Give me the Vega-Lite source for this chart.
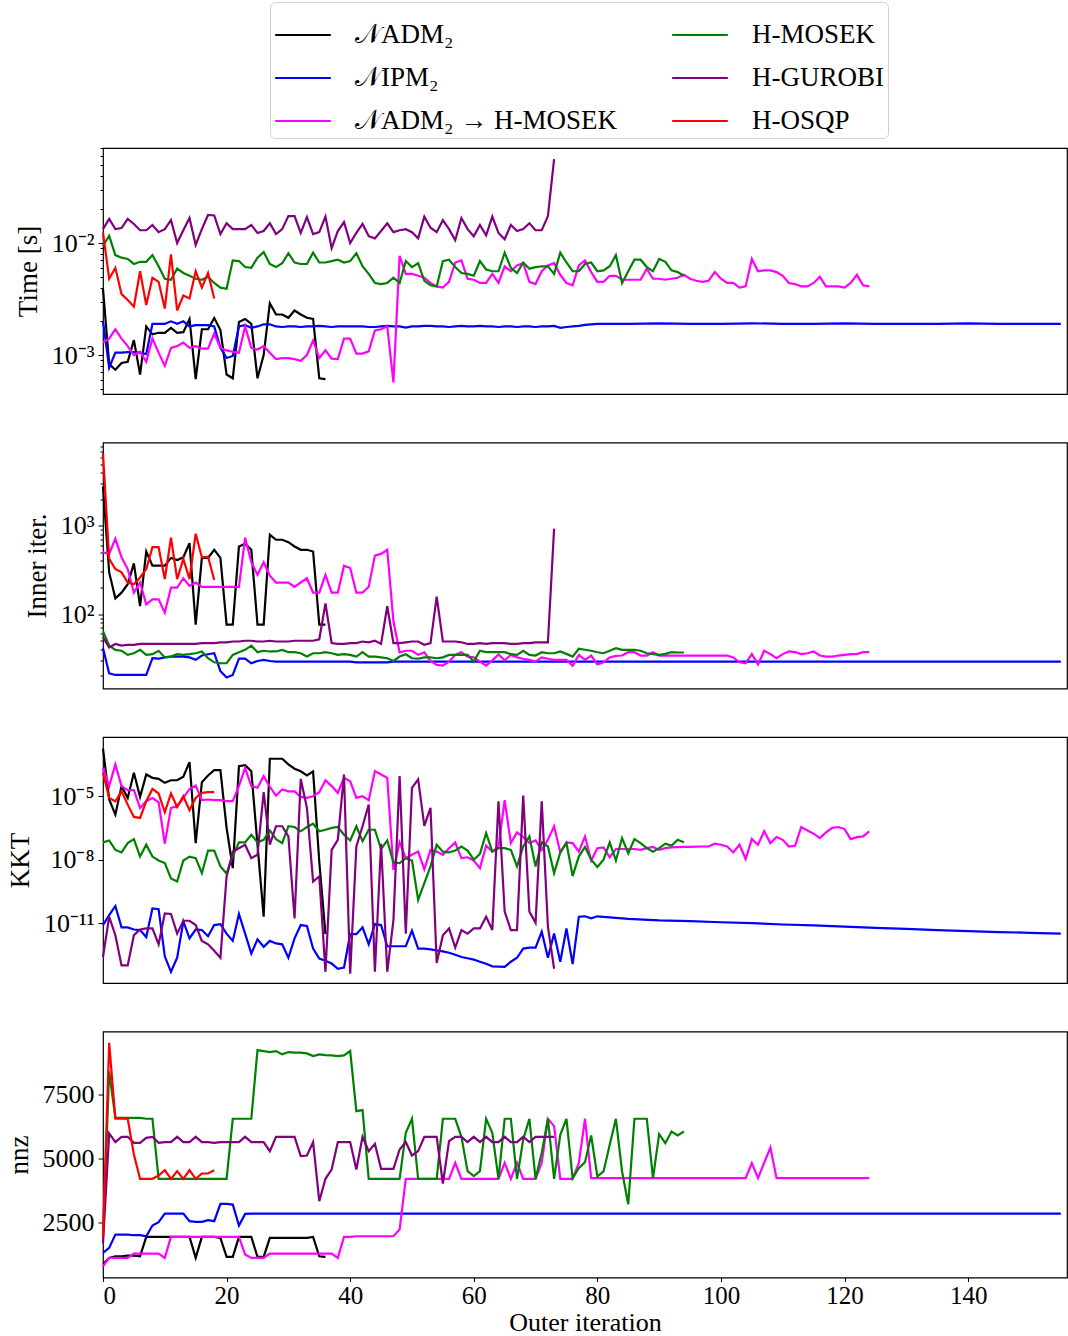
{
  "$schema": "https://vega.github.io/schema/vega-lite/v6.json",
  "padding": {"left": 4, "top": 1, "right": 2, "bottom": 0},
  "bounds": "flush",
  "spacing": 48.5,
  "config": {
    "font": "Liberation Serif",
    "view": {"stroke": "black", "strokeWidth": 1.2},
    "axis": {
      "labelFont": "Liberation Serif", "labelFontSize": 26, "labelColor": "black",
      "titleFont": "Liberation Serif", "titleFontSize": 27, "titleFontWeight": "normal", "titleColor": "black",
      "domain": false, "grid": false, "tickColor": "black", "tickWidth": 1,
      "labelPadding": 4, "titlePadding": 9, "labelOverlap": false
    },
    "legend": {
      "orient": "none", "legendX": 167, "legendY": -146, "columns": 2,
      "symbolType": "stroke", "symbolSize": 3100, "symbolStrokeWidth": 3,
      "labelFont": "Liberation Serif", "labelFontSize": 27, "labelColor": "black", "labelLimit": 400,
      "labelOffset": 23, "columnPadding": 50, "rowPadding": 1, "padding": 4,
      "strokeColor": "#d0d0d0", "fillColor": "white", "cornerRadius": 5
    },
    "line": {"strokeWidth": 2.2, "clip": true}
  },
  "data": {"values": [
    {"s":"𝒩ADM₂","i":0,"t":0.0039,"n":2780,"k":1.8e-3,"z":900},
    {"s":"𝒩ADM₂","i":1,"t":0.00083,"n":297,"k":7e-6,"z":1135},
    {"s":"𝒩ADM₂","i":2,"t":0.00074,"n":151,"k":1.35e-6,"z":1200},
    {"s":"𝒩ADM₂","i":3,"t":0.00085,"n":175,"k":3e-5,"z":1200},
    {"s":"𝒩ADM₂","i":4,"t":0.00087,"n":218,"k":8.3e-6,"z":1226},
    {"s":"𝒩ADM₂","i":5,"t":0.00136,"n":376,"k":1.3e-4,"z":1226},
    {"s":"𝒩ADM₂","i":6,"t":0.00067,"n":123,"k":9.3e-6,"z":1200},
    {"s":"𝒩ADM₂","i":7,"t":0.0018,"n":512,"k":1.07e-4,"z":1953},
    {"s":"𝒩ADM₂","i":8,"t":0.00153,"n":354,"k":7.4e-5,"z":1953},
    {"s":"𝒩ADM₂","i":9,"t":0.00158,"n":354,"k":6.6e-5,"z":1953},
    {"s":"𝒩ADM₂","i":10,"t":0.00158,"n":354,"k":4.3e-5,"z":1953},
    {"s":"𝒩ADM₂","i":11,"t":0.00175,"n":433,"k":5.7e-5,"z":1953},
    {"s":"𝒩ADM₂","i":12,"t":0.00158,"n":410,"k":5.7e-5,"z":1953},
    {"s":"𝒩ADM₂","i":13,"t":0.0016,"n":440,"k":8.3e-5,"z":1953},
    {"s":"𝒩ADM₂","i":14,"t":0.0021,"n":637,"k":4.1e-4,"z":1953},
    {"s":"𝒩ADM₂","i":15,"t":0.00061,"n":76,"k":6.1e-8,"z":1135},
    {"s":"𝒩ADM₂","i":16,"t":0.0017,"n":433,"k":4.6e-5,"z":1953},
    {"s":"𝒩ADM₂","i":17,"t":0.0017,"n":433,"k":9.6e-5,"z":1953},
    {"s":"𝒩ADM₂","i":18,"t":0.00214,"n":535,"k":1.7e-4,"z":1953},
    {"s":"𝒩ADM₂","i":19,"t":0.00167,"n":433,"k":1.7e-4,"z":1914},
    {"s":"𝒩ADM₂","i":20,"t":0.00067,"n":76,"k":3.2e-7,"z":1174},
    {"s":"𝒩ADM₂","i":21,"t":0.00062,"n":76,"k":4e-9,"z":1174},
    {"s":"𝒩ADM₂","i":22,"t":0.00197,"n":583,"k":2.65e-4,"z":1953},
    {"s":"𝒩ADM₂","i":23,"t":0.0021,"n":625,"k":2.9e-4,"z":1953},
    {"s":"𝒩ADM₂","i":24,"t":0.0019,"n":535,"k":1.5e-4,"z":1953},
    {"s":"𝒩ADM₂","i":25,"t":0.00062,"n":76,"k":5.1e-8,"z":1174},
    {"s":"𝒩ADM₂","i":26,"t":0.001,"n":76,"k":2e-11,"z":1174},
    {"s":"𝒩ADM₂","i":27,"t":0.0029,"n":792,"k":5.9e-4,"z":1914},
    {"s":"𝒩ADM₂","i":28,"t":0.0023,"n":695,"k":5.9e-4,"z":1914},
    {"s":"𝒩ADM₂","i":29,"t":0.0023,"n":695,"k":5.9e-4,"z":1914},
    {"s":"𝒩ADM₂","i":30,"t":0.00215,"n":653,"k":3.2e-4,"z":1914},
    {"s":"𝒩ADM₂","i":31,"t":0.0025,"n":583,"k":2e-4,"z":1914},
    {"s":"𝒩ADM₂","i":32,"t":0.0023,"n":535,"k":1.5e-4,"z":1914},
    {"s":"𝒩ADM₂","i":33,"t":0.00215,"n":535,"k":9.6e-5,"z":1914},
    {"s":"𝒩ADM₂","i":34,"t":0.0021,"n":512,"k":1.5e-4,"z":1953},
    {"s":"𝒩ADM₂","i":35,"t":0.00062,"n":76,"k":8e-9,"z":1200},
    {"s":"𝒩ADM₂","i":36,"t":0.00061,"n":76,"k":3e-12,"z":1174},

    {"s":"𝒩IPM₂","i":0,"t":0.002,"n":41,"k":8.1e-12,"z":1330},
    {"s":"𝒩IPM₂","i":1,"t":0.00077,"n":21.4,"k":2.4e-11,"z":1525},
    {"s":"𝒩IPM₂","i":2,"t":0.00105,"n":20.5,"k":6.5e-11,"z":2044},
    {"s":"𝒩IPM₂","i":3,"t":0.00105,"n":20.5,"k":6.3e-12,"z":2044},
    {"s":"𝒩IPM₂","i":4,"t":0.00106,"n":20.5,"k":6.3e-12,"z":2044},
    {"s":"𝒩IPM₂","i":5,"t":0.00106,"n":20.5,"k":5e-12,"z":2018},
    {"s":"𝒩IPM₂","i":6,"t":0.00105,"n":20.5,"k":4.7e-12,"z":2018},
    {"s":"𝒩IPM₂","i":7,"t":0.00102,"n":20.5,"k":2.2e-12,"z":1979},
    {"s":"𝒩IPM₂","i":8,"t":0.0019,"n":31.7,"k":5e-11,"z":2395},
    {"s":"𝒩IPM₂","i":9,"t":0.0019,"n":31.3,"k":4.6e-11,"z":2525},
    {"s":"𝒩IPM₂","i":10,"t":0.0019,"n":32.4,"k":2.7e-13,"z":2862},
    {"s":"𝒩IPM₂","i":11,"t":0.002,"n":33.1,"k":5e-14,"z":2862},
    {"s":"𝒩IPM₂","i":12,"t":0.0019,"n":33.1,"k":2.3e-13,"z":2862},
    {"s":"𝒩IPM₂","i":13,"t":0.002,"n":33.1,"k":1.2e-11,"z":2862},
    {"s":"𝒩IPM₂","i":14,"t":0.0018,"n":32.4,"k":1.9e-12,"z":2564},
    {"s":"𝒩IPM₂","i":15,"t":0.00185,"n":30.4,"k":5e-12,"z":2538},
    {"s":"𝒩IPM₂","i":16,"t":0.00185,"n":34,"k":4.7e-12,"z":2538},
    {"s":"𝒩IPM₂","i":17,"t":0.00185,"n":35.2,"k":2.4e-12,"z":2603},
    {"s":"𝒩IPM₂","i":18,"t":0.0018,"n":36.1,"k":8.1e-12,"z":2564},
    {"s":"𝒩IPM₂","i":19,"t":0.00116,"n":22.7,"k":9e-12,"z":3239},
    {"s":"𝒩IPM₂","i":20,"t":0.00094,"n":19.2,"k":3.2e-12,"z":3239},
    {"s":"𝒩IPM₂","i":21,"t":0.00098,"n":20.5,"k":1.45e-12,"z":3213},
    {"s":"𝒩IPM₂","i":22,"t":0.0018,"n":31.3,"k":2.7e-11,"z":2395},
    {"s":"𝒩IPM₂","i":23,"t":0.00185,"n":31.3,"k":3.2e-12,"z":2849},
    {"s":"𝒩IPM₂","i":24,"t":0.00175,"n":27.8,"k":3.6e-13,"z":2862},
    {"s":"𝒩IPM₂","i":25,"t":0.0018,"n":29.5,"k":1.7e-12,"z":2862},
    {"s":"𝒩IPM₂","i":26,"t":0.00188,"n":30.4,"k":7.6e-13,"z":2862},
    {"s":"𝒩IPM₂","i":27,"t":0.00188,"n":29.5,"k":1.45e-12,"z":2862},
    {"s":"𝒩IPM₂","i":28,"t":0.0018,"n":29,"k":1.1e-12,"z":2862},
    {"s":"𝒩IPM₂","i":29,"t":0.00178,"n":29,"k":1e-12,"z":2862},
    {"s":"𝒩IPM₂","i":30,"t":0.0018,"n":29,"k":2.3e-13,"z":2862},
    {"s":"𝒩IPM₂","i":31,"t":0.0018,"n":29,"k":1.9e-12,"z":2862},
    {"s":"𝒩IPM₂","i":32,"t":0.00178,"n":29,"k":8.1e-12,"z":2862},
    {"s":"𝒩IPM₂","i":33,"t":0.0018,"n":29,"k":7.3e-12,"z":2862},
    {"s":"𝒩IPM₂","i":34,"t":0.0018,"n":29,"k":6.3e-13,"z":2862},
    {"s":"𝒩IPM₂","i":35,"t":0.00182,"n":29,"k":2.1e-13,"z":2862},
    {"s":"𝒩IPM₂","i":36,"t":0.0018,"n":29,"k":1.66e-13,"z":2862},
    {"s":"𝒩IPM₂","i":37,"t":0.00178,"n":29,"k":1.23e-13,"z":2862},
    {"s":"𝒩IPM₂","i":38,"t":0.0018,"n":29,"k":7e-14,"z":2862},
    {"s":"𝒩IPM₂","i":39,"t":0.0018,"n":29,"k":8e-14,"z":2862},
    {"s":"𝒩IPM₂","i":40,"t":0.0018,"n":29,"k":3e-12,"z":2862},
    {"s":"𝒩IPM₂","i":41,"t":0.0018,"n":28.5,"k":3e-12,"z":2862},
    {"s":"𝒩IPM₂","i":42,"t":0.0018,"n":28.5,"k":6.3e-12,"z":2862},
    {"s":"𝒩IPM₂","i":43,"t":0.00178,"n":28.5,"k":1e-12,"z":2862},
    {"s":"𝒩IPM₂","i":44,"t":0.00178,"n":28.5,"k":9e-12,"z":2862},
    {"s":"𝒩IPM₂","i":45,"t":0.0018,"n":28.5,"k":8.1e-12,"z":2862},
    {"s":"𝒩IPM₂","i":46,"t":0.00182,"n":28.5,"k":8.1e-13,"z":2862},
    {"s":"𝒩IPM₂","i":47,"t":0.0018,"n":29,"k":8.1e-13,"z":2862},
    {"s":"𝒩IPM₂","i":48,"t":0.0018,"n":29,"k":8.1e-13,"z":2862},
    {"s":"𝒩IPM₂","i":49,"t":0.00176,"n":29,"k":8.1e-13,"z":2862},
    {"s":"𝒩IPM₂","i":50,"t":0.0018,"n":29,"k":4.4e-12,"z":2862},
    {"s":"𝒩IPM₂","i":51,"t":0.0018,"n":29,"k":6.3e-13,"z":2862},
    {"s":"𝒩IPM₂","i":52,"t":0.00182,"n":29,"k":6.3e-13,"z":2862},
    {"s":"𝒩IPM₂","i":53,"t":0.00182,"n":29,"k":5.8e-13,"z":2862},
    {"s":"𝒩IPM₂","i":54,"t":0.0018,"n":29,"k":5.2e-13,"z":2862},
    {"s":"𝒩IPM₂","i":55,"t":0.0018,"n":29,"k":4.6e-13,"z":2862},
    {"s":"𝒩IPM₂","i":56,"t":0.00178,"n":29,"k":4e-13,"z":2862},
    {"s":"𝒩IPM₂","i":57,"t":0.0018,"n":29,"k":3.2e-13,"z":2862},
    {"s":"𝒩IPM₂","i":58,"t":0.00182,"n":29,"k":2.5e-13,"z":2862},
    {"s":"𝒩IPM₂","i":59,"t":0.0018,"n":29,"k":2.2e-13,"z":2862},
    {"s":"𝒩IPM₂","i":60,"t":0.0018,"n":29,"k":1.9e-13,"z":2862},
    {"s":"𝒩IPM₂","i":61,"t":0.00182,"n":29,"k":1.5e-13,"z":2862},
    {"s":"𝒩IPM₂","i":62,"t":0.0018,"n":29,"k":1.2e-13,"z":2862},
    {"s":"𝒩IPM₂","i":63,"t":0.0018,"n":29,"k":9.1e-14,"z":2862},
    {"s":"𝒩IPM₂","i":64,"t":0.00178,"n":29,"k":8.8e-14,"z":2862},
    {"s":"𝒩IPM₂","i":65,"t":0.0018,"n":29,"k":8.5e-14,"z":2862},
    {"s":"𝒩IPM₂","i":66,"t":0.0018,"n":29,"k":1.5e-13,"z":2862},
    {"s":"𝒩IPM₂","i":67,"t":0.00178,"n":29,"k":2.3e-13,"z":2862},
    {"s":"𝒩IPM₂","i":68,"t":0.0018,"n":29,"k":6.3e-13,"z":2862},
    {"s":"𝒩IPM₂","i":69,"t":0.0018,"n":29,"k":7e-13,"z":2862},
    {"s":"𝒩IPM₂","i":70,"t":0.00178,"n":29,"k":7e-13,"z":2862},
    {"s":"𝒩IPM₂","i":71,"t":0.0018,"n":29,"k":3.9e-12,"z":2862},
    {"s":"𝒩IPM₂","i":72,"t":0.0018,"n":29,"k":2.3e-13,"z":2862},
    {"s":"𝒩IPM₂","i":73,"t":0.00182,"n":29,"k":3.2e-12,"z":2862},
    {"s":"𝒩IPM₂","i":74,"t":0.00175,"n":29,"k":1.5e-13,"z":2862},
    {"s":"𝒩IPM₂","i":75,"t":0.00178,"n":29,"k":5.6e-12,"z":2862},
    {"s":"𝒩IPM₂","i":76,"t":0.0018,"n":29,"k":1.15e-13,"z":2862},
    {"s":"𝒩IPM₂","i":77,"t":0.00182,"n":29,"k":2e-11,"z":2862},
    {"s":"𝒩IPM₂","i":78,"t":0.00186,"n":29,"k":2.1e-11,"z":2862},
    {"s":"𝒩IPM₂","i":79,"t":0.00188,"n":29,"k":1.7e-11,"z":2862},
    {"s":"𝒩IPM₂","i":80,"t":0.0019,"n":29,"k":2.1e-11,"z":2862},
    {"s":"𝒩IPM₂","i":85,"t":0.0019,"n":29,"k":1.6e-11,"z":2862},
    {"s":"𝒩IPM₂","i":90,"t":0.00192,"n":29,"k":1.35e-11,"z":2862},
    {"s":"𝒩IPM₂","i":95,"t":0.0019,"n":29,"k":1.25e-11,"z":2862},
    {"s":"𝒩IPM₂","i":100,"t":0.0019,"n":29,"k":1.1e-11,"z":2862},
    {"s":"𝒩IPM₂","i":105,"t":0.00192,"n":29,"k":1e-11,"z":2862},
    {"s":"𝒩IPM₂","i":110,"t":0.0019,"n":29,"k":8.6e-12,"z":2862},
    {"s":"𝒩IPM₂","i":115,"t":0.0019,"n":29,"k":7.8e-12,"z":2862},
    {"s":"𝒩IPM₂","i":120,"t":0.00192,"n":29,"k":6.8e-12,"z":2862},
    {"s":"𝒩IPM₂","i":125,"t":0.0019,"n":29,"k":6e-12,"z":2862},
    {"s":"𝒩IPM₂","i":130,"t":0.0019,"n":29,"k":5.3e-12,"z":2862},
    {"s":"𝒩IPM₂","i":135,"t":0.0019,"n":29,"k":4.7e-12,"z":2862},
    {"s":"𝒩IPM₂","i":140,"t":0.00192,"n":29,"k":4.2e-12,"z":2862},
    {"s":"𝒩IPM₂","i":145,"t":0.0019,"n":29,"k":3.8e-12,"z":2862},
    {"s":"𝒩IPM₂","i":150,"t":0.0019,"n":29,"k":3.5e-12,"z":2862},
    {"s":"𝒩IPM₂","i":155,"t":0.0019,"n":29,"k":3.2e-12,"z":2862},

    {"s":"𝒩ADM₂ → H-MOSEK","i":0,"t":0.00129,"n":500,"k":2.2e-4,"z":810},
    {"s":"𝒩ADM₂ → H-MOSEK","i":1,"t":0.0014,"n":481,"k":3e-5,"z":1135},
    {"s":"𝒩ADM₂ → H-MOSEK","i":2,"t":0.0017,"n":713,"k":3.2e-4,"z":1135},
    {"s":"𝒩ADM₂ → H-MOSEK","i":3,"t":0.0014,"n":440,"k":3e-5,"z":1135},
    {"s":"𝒩ADM₂ → H-MOSEK","i":4,"t":0.0012,"n":324,"k":1.93e-5,"z":1135},
    {"s":"𝒩ADM₂ → H-MOSEK","i":5,"t":0.001,"n":175,"k":1.93e-5,"z":1304},
    {"s":"𝒩ADM₂ → H-MOSEK","i":6,"t":0.00107,"n":228,"k":2.8e-6,"z":1304},
    {"s":"𝒩ADM₂ → H-MOSEK","i":7,"t":0.00087,"n":129,"k":5.8e-6,"z":1304},
    {"s":"𝒩ADM₂ → H-MOSEK","i":8,"t":0.0014,"n":147,"k":8.3e-6,"z":1304},
    {"s":"𝒩ADM₂ → H-MOSEK","i":9,"t":0.00105,"n":147,"k":5.2e-6,"z":1304},
    {"s":"𝒩ADM₂ → H-MOSEK","i":10,"t":0.0008,"n":104,"k":5.7e-8,"z":1135},
    {"s":"𝒩ADM₂ → H-MOSEK","i":11,"t":0.00116,"n":200,"k":2.8e-6,"z":1953},
    {"s":"𝒩ADM₂ → H-MOSEK","i":12,"t":0.0012,"n":200,"k":3.3e-6,"z":1953},
    {"s":"𝒩ADM₂ → H-MOSEK","i":13,"t":0.00129,"n":255,"k":8.3e-6,"z":1953},
    {"s":"𝒩ADM₂ → H-MOSEK","i":14,"t":0.00116,"n":209,"k":2.2e-5,"z":1953},
    {"s":"𝒩ADM₂ → H-MOSEK","i":15,"t":0.0012,"n":228,"k":3.2e-5,"z":1953},
    {"s":"𝒩ADM₂ → H-MOSEK","i":16,"t":0.00114,"n":204,"k":6.5e-6,"z":1953},
    {"s":"𝒩ADM₂ → H-MOSEK","i":17,"t":0.00114,"n":204,"k":7e-6,"z":1953},
    {"s":"𝒩ADM₂ → H-MOSEK","i":18,"t":0.00156,"n":204,"k":6.5e-6,"z":1953},
    {"s":"𝒩ADM₂ → H-MOSEK","i":19,"t":0.00116,"n":204,"k":6.5e-6,"z":1953},
    {"s":"𝒩ADM₂ → H-MOSEK","i":20,"t":0.0011,"n":204,"k":5.8e-6,"z":1953},
    {"s":"𝒩ADM₂ → H-MOSEK","i":21,"t":0.00107,"n":204,"k":5.8e-6,"z":1953},
    {"s":"𝒩ADM₂ → H-MOSEK","i":22,"t":0.00105,"n":204,"k":3e-5,"z":1953},
    {"s":"𝒩ADM₂ → H-MOSEK","i":23,"t":0.0018,"n":733,"k":2.2e-4,"z":1265},
    {"s":"𝒩ADM₂ → H-MOSEK","i":24,"t":0.00116,"n":387,"k":3e-5,"z":1135},
    {"s":"𝒩ADM₂ → H-MOSEK","i":25,"t":0.00112,"n":279,"k":2.5e-5,"z":1135},
    {"s":"𝒩ADM₂ → H-MOSEK","i":26,"t":0.0012,"n":387,"k":8.9e-5,"z":1135},
    {"s":"𝒩ADM₂ → H-MOSEK","i":27,"t":0.00105,"n":272,"k":2.8e-5,"z":1304},
    {"s":"𝒩ADM₂ → H-MOSEK","i":28,"t":0.00092,"n":228,"k":1.07e-5,"z":1304},
    {"s":"𝒩ADM₂ → H-MOSEK","i":29,"t":0.00094,"n":228,"k":2.07e-5,"z":1304},
    {"s":"𝒩ADM₂ → H-MOSEK","i":30,"t":0.00094,"n":228,"k":1.7e-5,"z":1304},
    {"s":"𝒩ADM₂ → H-MOSEK","i":31,"t":0.00092,"n":204,"k":1.7e-5,"z":1304},
    {"s":"𝒩ADM₂ → H-MOSEK","i":32,"t":0.00089,"n":228,"k":9.3e-6,"z":1304},
    {"s":"𝒩ADM₂ → H-MOSEK","i":33,"t":0.001,"n":255,"k":8.3e-6,"z":1304},
    {"s":"𝒩ADM₂ → H-MOSEK","i":34,"t":0.00135,"n":175,"k":1e-5,"z":1304},
    {"s":"𝒩ADM₂ → H-MOSEK","i":35,"t":0.00094,"n":175,"k":1.55e-5,"z":1304},
    {"s":"𝒩ADM₂ → H-MOSEK","i":36,"t":0.0011,"n":279,"k":5.7e-5,"z":1304},
    {"s":"𝒩ADM₂ → H-MOSEK","i":37,"t":0.00093,"n":175,"k":3e-5,"z":1304},
    {"s":"𝒩ADM₂ → H-MOSEK","i":38,"t":0.00092,"n":175,"k":1.44e-5,"z":1135},
    {"s":"𝒩ADM₂ → H-MOSEK","i":39,"t":0.0014,"n":354,"k":7.4e-5,"z":1953},
    {"s":"𝒩ADM₂ → H-MOSEK","i":40,"t":0.0014,"n":333,"k":5.1e-5,"z":1953},
    {"s":"𝒩ADM₂ → H-MOSEK","i":41,"t":0.00103,"n":175,"k":8.3e-6,"z":1979},
    {"s":"𝒩ADM₂ → H-MOSEK","i":42,"t":0.00103,"n":175,"k":1e-5,"z":1979},
    {"s":"𝒩ADM₂ → H-MOSEK","i":43,"t":0.00108,"n":204,"k":6.5e-6,"z":1979},
    {"s":"𝒩ADM₂ → H-MOSEK","i":44,"t":0.00166,"n":460,"k":1.53e-4,"z":1979},
    {"s":"𝒩ADM₂ → H-MOSEK","i":45,"t":0.0017,"n":481,"k":1.07e-4,"z":1979},
    {"s":"𝒩ADM₂ → H-MOSEK","i":46,"t":0.0018,"n":535,"k":7.4e-5,"z":1979},
    {"s":"𝒩ADM₂ → H-MOSEK","i":47,"t":0.00057,"n":83,"k":3.3e-9,"z":1979},
    {"s":"𝒩ADM₂ → H-MOSEK","i":48,"t":0.0077,"n":37,"k":6.6e-8,"z":2239},
    {"s":"𝒩ADM₂ → H-MOSEK","i":49,"t":0.0053,"n":38.5,"k":1.18e-8,"z":4214},
    {"s":"𝒩ADM₂ → H-MOSEK","i":50,"t":0.0053,"n":38.5,"k":1.7e-8,"z":4214},
    {"s":"𝒩ADM₂ → H-MOSEK","i":51,"t":0.0051,"n":34.6,"k":2.4e-8,"z":4214},
    {"s":"𝒩ADM₂ → H-MOSEK","i":52,"t":0.0049,"n":37,"k":3.5e-9,"z":4214},
    {"s":"𝒩ADM₂ → H-MOSEK","i":53,"t":0.0044,"n":29.5,"k":2.9e-8,"z":4214},
    {"s":"𝒩ADM₂ → H-MOSEK","i":54,"t":0.0041,"n":26.6,"k":2.4e-8,"z":4214},
    {"s":"𝒩ADM₂ → H-MOSEK","i":55,"t":0.004,"n":26.2,"k":1.7e-8,"z":4214},
    {"s":"𝒩ADM₂ → H-MOSEK","i":56,"t":0.0045,"n":29,"k":3.5e-8,"z":4214},
    {"s":"𝒩ADM₂ → H-MOSEK","i":57,"t":0.0067,"n":34.6,"k":6.6e-8,"z":4837},
    {"s":"𝒩ADM₂ → H-MOSEK","i":58,"t":0.007,"n":37,"k":1.18e-8,"z":4214},
    {"s":"𝒩ADM₂ → H-MOSEK","i":59,"t":0.0048,"n":33,"k":1.3e-8,"z":4214},
    {"s":"𝒩ADM₂ → H-MOSEK","i":60,"t":0.0047,"n":32.4,"k":9.1e-9,"z":4214},
    {"s":"𝒩ADM₂ → H-MOSEK","i":61,"t":0.0044,"n":29,"k":4e-9,"z":4214},
    {"s":"𝒩ADM₂ → H-MOSEK","i":62,"t":0.0044,"n":26.2,"k":4.6e-8,"z":4214},
    {"s":"𝒩ADM₂ → H-MOSEK","i":63,"t":0.0053,"n":30,"k":2.4e-8,"z":4214},
    {"s":"𝒩ADM₂ → H-MOSEK","i":64,"t":0.0044,"n":35,"k":4.2e-8,"z":4214},
    {"s":"𝒩ADM₂ → H-MOSEK","i":65,"t":0.0062,"n":30,"k":6.5e-6,"z":4837},
    {"s":"𝒩ADM₂ → H-MOSEK","i":66,"t":0.0056,"n":34.6,"k":6.1e-8,"z":4214},
    {"s":"𝒩ADM₂ → H-MOSEK","i":67,"t":0.0063,"n":32.4,"k":1.95e-7,"z":4837},
    {"s":"𝒩ADM₂ → H-MOSEK","i":68,"t":0.0066,"n":31.3,"k":1.17e-7,"z":4214},
    {"s":"𝒩ADM₂ → H-MOSEK","i":69,"t":0.0045,"n":30.4,"k":6.1e-8,"z":4214},
    {"s":"𝒩ADM₂ → H-MOSEK","i":70,"t":0.0043,"n":29,"k":8.1e-8,"z":4214},
    {"s":"𝒩ADM₂ → H-MOSEK","i":71,"t":0.0056,"n":32.4,"k":2.9e-8,"z":4837},
    {"s":"𝒩ADM₂ → H-MOSEK","i":72,"t":0.0063,"n":31.3,"k":8.7e-8,"z":6552},
    {"s":"𝒩ADM₂ → H-MOSEK","i":73,"t":0.0066,"n":30.4,"k":3.8e-7,"z":6266},
    {"s":"𝒩ADM₂ → H-MOSEK","i":74,"t":0.0052,"n":30.4,"k":2.2e-8,"z":4214},
    {"s":"𝒩ADM₂ → H-MOSEK","i":75,"t":0.0044,"n":30.4,"k":6.6e-8,"z":4214},
    {"s":"𝒩ADM₂ → H-MOSEK","i":76,"t":0.0042,"n":26.1,"k":6.1e-8,"z":4214},
    {"s":"𝒩ADM₂ → H-MOSEK","i":77,"t":0.0063,"n":34.6,"k":2.4e-8,"z":4824},
    {"s":"𝒩ADM₂ → H-MOSEK","i":78,"t":0.007,"n":30.4,"k":1.26e-7,"z":6552},
    {"s":"𝒩ADM₂ → H-MOSEK","i":79,"t":0.0055,"n":34,"k":9.1e-9,"z":4240},
    {"s":"𝒩ADM₂ → H-MOSEK","i":80,"t":0.0045,"n":27,"k":3.5e-8,"z":4240},
    {"s":"𝒩ADM₂ → H-MOSEK","i":81,"t":0.0045,"n":28.5,"k":3.8e-8,"z":4240},
    {"s":"𝒩ADM₂ → H-MOSEK","i":82,"t":0.0051,"n":32.3,"k":1.3e-8,"z":4240},
    {"s":"𝒩ADM₂ → H-MOSEK","i":83,"t":0.0051,"n":33.7,"k":3.2e-8,"z":4240},
    {"s":"𝒩ADM₂ → H-MOSEK","i":84,"t":0.0047,"n":34,"k":3.2e-8,"z":4240},
    {"s":"𝒩ADM₂ → H-MOSEK","i":85,"t":0.0047,"n":37.1,"k":3.2e-8,"z":4240},
    {"s":"𝒩ADM₂ → H-MOSEK","i":86,"t":0.0047,"n":37.1,"k":3.2e-8,"z":4240},
    {"s":"𝒩ADM₂ → H-MOSEK","i":87,"t":0.0047,"n":34,"k":2.9e-8,"z":4240},
    {"s":"𝒩ADM₂ → H-MOSEK","i":88,"t":0.0059,"n":34,"k":3.5e-8,"z":4240},
    {"s":"𝒩ADM₂ → H-MOSEK","i":89,"t":0.0048,"n":37.1,"k":4e-8,"z":4240},
    {"s":"𝒩ADM₂ → H-MOSEK","i":90,"t":0.0048,"n":34,"k":2.9e-8,"z":4240},
    {"s":"𝒩ADM₂ → H-MOSEK","i":91,"t":0.0047,"n":34,"k":3.5e-8,"z":4240},
    {"s":"𝒩ADM₂ → H-MOSEK","i":92,"t":0.0048,"n":34,"k":3.8e-8,"z":4240},
    {"s":"𝒩ADM₂ → H-MOSEK","i":93,"t":0.0049,"n":34,"k":3.9e-8,"z":4240},
    {"s":"𝒩ADM₂ → H-MOSEK","i":94,"t":0.0052,"n":34,"k":4e-8,"z":4240},
    {"s":"𝒩ADM₂ → H-MOSEK","i":95,"t":0.0048,"n":34,"k":4e-8,"z":4240},
    {"s":"𝒩ADM₂ → H-MOSEK","i":96,"t":0.0046,"n":34,"k":4.1e-8,"z":4240},
    {"s":"𝒩ADM₂ → H-MOSEK","i":97,"t":0.0045,"n":34,"k":4.2e-8,"z":4240},
    {"s":"𝒩ADM₂ → H-MOSEK","i":98,"t":0.0046,"n":34,"k":4.2e-8,"z":4240},
    {"s":"𝒩ADM₂ → H-MOSEK","i":99,"t":0.0055,"n":34,"k":5.7e-8,"z":4240},
    {"s":"𝒩ADM₂ → H-MOSEK","i":100,"t":0.0048,"n":34,"k":5.1e-8,"z":4240},
    {"s":"𝒩ADM₂ → H-MOSEK","i":101,"t":0.0044,"n":34,"k":4.2e-8,"z":4240},
    {"s":"𝒩ADM₂ → H-MOSEK","i":102,"t":0.0044,"n":32.3,"k":2.2e-8,"z":4240},
    {"s":"𝒩ADM₂ → H-MOSEK","i":103,"t":0.004,"n":28.5,"k":5.1e-8,"z":4240},
    {"s":"𝒩ADM₂ → H-MOSEK","i":104,"t":0.0041,"n":27.8,"k":1.07e-8,"z":4240},
    {"s":"𝒩ADM₂ → H-MOSEK","i":105,"t":0.0072,"n":35.3,"k":9.4e-8,"z":4824},
    {"s":"𝒩ADM₂ → H-MOSEK","i":106,"t":0.0056,"n":27,"k":5.1e-8,"z":4240},
    {"s":"𝒩ADM₂ → H-MOSEK","i":107,"t":0.0057,"n":38.5,"k":2.2e-7,"z":4840},
    {"s":"𝒩ADM₂ → H-MOSEK","i":108,"t":0.0057,"n":35.3,"k":6.1e-8,"z":5435},
    {"s":"𝒩ADM₂ → H-MOSEK","i":109,"t":0.0055,"n":31.7,"k":1.17e-7,"z":4240},
    {"s":"𝒩ADM₂ → H-MOSEK","i":110,"t":0.0051,"n":35.3,"k":8.7e-8,"z":4240},
    {"s":"𝒩ADM₂ → H-MOSEK","i":111,"t":0.0044,"n":37.8,"k":4.2e-8,"z":4240},
    {"s":"𝒩ADM₂ → H-MOSEK","i":112,"t":0.0043,"n":37.1,"k":4.6e-8,"z":4240},
    {"s":"𝒩ADM₂ → H-MOSEK","i":113,"t":0.0041,"n":35.3,"k":3.5e-7,"z":4240},
    {"s":"𝒩ADM₂ → H-MOSEK","i":114,"t":0.0041,"n":36.1,"k":2.4e-7,"z":4240},
    {"s":"𝒩ADM₂ → H-MOSEK","i":115,"t":0.0044,"n":37.8,"k":1.7e-7,"z":4240},
    {"s":"𝒩ADM₂ → H-MOSEK","i":116,"t":0.005,"n":34,"k":1.05e-7,"z":4240},
    {"s":"𝒩ADM₂ → H-MOSEK","i":117,"t":0.0041,"n":33.1,"k":1.95e-7,"z":4240},
    {"s":"𝒩ADM₂ → H-MOSEK","i":118,"t":0.0041,"n":33.1,"k":3.2e-7,"z":4240},
    {"s":"𝒩ADM₂ → H-MOSEK","i":119,"t":0.0041,"n":34,"k":3.5e-7,"z":4240},
    {"s":"𝒩ADM₂ → H-MOSEK","i":120,"t":0.004,"n":34.6,"k":2.8e-7,"z":4240},
    {"s":"𝒩ADM₂ → H-MOSEK","i":121,"t":0.0044,"n":35.3,"k":9.4e-8,"z":4240},
    {"s":"𝒩ADM₂ → H-MOSEK","i":122,"t":0.0052,"n":35.3,"k":1.17e-7,"z":4240},
    {"s":"𝒩ADM₂ → H-MOSEK","i":123,"t":0.0042,"n":37.1,"k":1.26e-7,"z":4240},
    {"s":"𝒩ADM₂ → H-MOSEK","i":124,"t":0.0041,"n":37.1,"k":2.2e-7,"z":4240},

    {"s":"H-MOSEK","i":0,"t":0.0094,"n":64,"k":6.6e-8,"z":1900},
    {"s":"H-MOSEK","i":1,"t":0.0116,"n":44,"k":8.1e-8,"z":8400},
    {"s":"H-MOSEK","i":2,"t":0.0078,"n":39.4,"k":2.9e-8,"z":6590},
    {"s":"H-MOSEK","i":3,"t":0.0074,"n":38.5,"k":2.2e-8,"z":6590},
    {"s":"H-MOSEK","i":4,"t":0.0072,"n":34.6,"k":6.1e-8,"z":6590},
    {"s":"H-MOSEK","i":5,"t":0.0065,"n":36.1,"k":9.4e-8,"z":6590},
    {"s":"H-MOSEK","i":6,"t":0.0068,"n":39.4,"k":1.4e-8,"z":6590},
    {"s":"H-MOSEK","i":7,"t":0.0068,"n":34.6,"k":5.1e-8,"z":6552},
    {"s":"H-MOSEK","i":8,"t":0.0078,"n":35.2,"k":1.4e-8,"z":6552},
    {"s":"H-MOSEK","i":9,"t":0.0062,"n":38.5,"k":9.1e-9,"z":4214},
    {"s":"H-MOSEK","i":10,"t":0.0048,"n":32.4,"k":6.9e-9,"z":4214},
    {"s":"H-MOSEK","i":11,"t":0.0047,"n":33.1,"k":1.3e-9,"z":4214},
    {"s":"H-MOSEK","i":12,"t":0.0059,"n":35.2,"k":9.3e-10,"z":4214},
    {"s":"H-MOSEK","i":13,"t":0.0054,"n":34.6,"k":9.1e-9,"z":4214},
    {"s":"H-MOSEK","i":14,"t":0.0051,"n":35.2,"k":1.4e-8,"z":4214},
    {"s":"H-MOSEK","i":15,"t":0.0048,"n":36.1,"k":1.18e-8,"z":4214},
    {"s":"H-MOSEK","i":16,"t":0.0047,"n":37.8,"k":2.3e-9,"z":4214},
    {"s":"H-MOSEK","i":17,"t":0.005,"n":31.7,"k":2.7e-8,"z":4214},
    {"s":"H-MOSEK","i":18,"t":0.0044,"n":28.5,"k":2.7e-8,"z":4214},
    {"s":"H-MOSEK","i":19,"t":0.004,"n":27.8,"k":4.8e-9,"z":4214},
    {"s":"H-MOSEK","i":20,"t":0.0039,"n":27.8,"k":2.2e-9,"z":4214},
    {"s":"H-MOSEK","i":21,"t":0.007,"n":34.6,"k":1.5e-8,"z":6552},
    {"s":"H-MOSEK","i":22,"t":0.0069,"n":37.1,"k":6.6e-8,"z":6552},
    {"s":"H-MOSEK","i":23,"t":0.0061,"n":39.4,"k":6.6e-8,"z":6552},
    {"s":"H-MOSEK","i":24,"t":0.006,"n":44,"k":1.5e-7,"z":6552},
    {"s":"H-MOSEK","i":25,"t":0.0074,"n":37.1,"k":6.6e-8,"z":9228},
    {"s":"H-MOSEK","i":26,"t":0.0083,"n":38.5,"k":8.7e-8,"z":9189},
    {"s":"H-MOSEK","i":27,"t":0.0065,"n":37.8,"k":2.4e-7,"z":9150},
    {"s":"H-MOSEK","i":28,"t":0.0061,"n":37.8,"k":9.4e-8,"z":9189},
    {"s":"H-MOSEK","i":29,"t":0.0066,"n":39.4,"k":6.1e-8,"z":9059},
    {"s":"H-MOSEK","i":30,"t":0.0081,"n":37.1,"k":3.8e-7,"z":9150},
    {"s":"H-MOSEK","i":31,"t":0.0067,"n":37.1,"k":3.5e-7,"z":9124},
    {"s":"H-MOSEK","i":32,"t":0.0065,"n":36.1,"k":2.2e-7,"z":9124},
    {"s":"H-MOSEK","i":33,"t":0.0065,"n":33.1,"k":3.5e-7,"z":9098},
    {"s":"H-MOSEK","i":34,"t":0.0082,"n":36.1,"k":5e-7,"z":8994},
    {"s":"H-MOSEK","i":35,"t":0.0067,"n":36.1,"k":2.2e-7,"z":9059},
    {"s":"H-MOSEK","i":36,"t":0.0067,"n":37.1,"k":2.6e-7,"z":9033},
    {"s":"H-MOSEK","i":37,"t":0.0069,"n":36.1,"k":3.2e-7,"z":9020},
    {"s":"H-MOSEK","i":38,"t":0.0071,"n":34.6,"k":3.5e-7,"z":8994},
    {"s":"H-MOSEK","i":39,"t":0.0067,"n":35.2,"k":1.5e-7,"z":9020},
    {"s":"H-MOSEK","i":40,"t":0.0069,"n":34.6,"k":8.1e-8,"z":9189},
    {"s":"H-MOSEK","i":41,"t":0.0081,"n":33.1,"k":3.8e-7,"z":6850},
    {"s":"H-MOSEK","i":42,"t":0.0062,"n":37.1,"k":7.4e-8,"z":6890},
    {"s":"H-MOSEK","i":43,"t":0.0053,"n":33.1,"k":2.6e-7,"z":4214},
    {"s":"H-MOSEK","i":44,"t":0.0044,"n":33.1,"k":2.6e-7,"z":4214},
    {"s":"H-MOSEK","i":45,"t":0.0043,"n":32.4,"k":3.2e-8,"z":4214},
    {"s":"H-MOSEK","i":46,"t":0.0044,"n":31.7,"k":8.1e-8,"z":4214},
    {"s":"H-MOSEK","i":47,"t":0.0049,"n":29.5,"k":7.4e-9,"z":4214},
    {"s":"H-MOSEK","i":48,"t":0.0044,"n":33.1,"k":6.9e-9,"z":4214},
    {"s":"H-MOSEK","i":49,"t":0.0069,"n":35.2,"k":1.18e-8,"z":6006},
    {"s":"H-MOSEK","i":50,"t":0.0061,"n":31.7,"k":9.1e-9,"z":6552},
    {"s":"H-MOSEK","i":51,"t":0.0066,"n":31.3,"k":1.26e-10,"z":4214},
    {"s":"H-MOSEK","i":52,"t":0.0046,"n":32.4,"k":7.8e-10,"z":4214},
    {"s":"H-MOSEK","i":53,"t":0.0042,"n":32.4,"k":4.8e-9,"z":4214},
    {"s":"H-MOSEK","i":54,"t":0.0041,"n":31.7,"k":5.1e-8,"z":4214},
    {"s":"H-MOSEK","i":55,"t":0.0069,"n":32.4,"k":2.4e-8,"z":6552},
    {"s":"H-MOSEK","i":56,"t":0.0071,"n":34.6,"k":2.2e-8,"z":6552},
    {"s":"H-MOSEK","i":57,"t":0.0061,"n":34.6,"k":2.7e-8,"z":6552},
    {"s":"H-MOSEK","i":58,"t":0.0054,"n":34.6,"k":4.2e-8,"z":5850},
    {"s":"H-MOSEK","i":59,"t":0.0053,"n":34.6,"k":2.7e-8,"z":4512},
    {"s":"H-MOSEK","i":60,"t":0.0051,"n":29,"k":1e-8,"z":4317},
    {"s":"H-MOSEK","i":61,"t":0.0069,"n":38.5,"k":1.9e-8,"z":4512},
    {"s":"H-MOSEK","i":62,"t":0.0058,"n":37.1,"k":1.8e-7,"z":6552},
    {"s":"H-MOSEK","i":63,"t":0.0056,"n":37.1,"k":2.4e-8,"z":6006},
    {"s":"H-MOSEK","i":64,"t":0.0056,"n":37.1,"k":3.5e-8,"z":4214},
    {"s":"H-MOSEK","i":65,"t":0.0082,"n":37.1,"k":3.5e-8,"z":6552},
    {"s":"H-MOSEK","i":66,"t":0.006,"n":35.2,"k":2.9e-8,"z":6552},
    {"s":"H-MOSEK","i":67,"t":0.0054,"n":34.6,"k":4.8e-9,"z":4214},
    {"s":"H-MOSEK","i":68,"t":0.0067,"n":38.5,"k":4.2e-8,"z":5746},
    {"s":"H-MOSEK","i":69,"t":0.0059,"n":34.6,"k":1.26e-7,"z":6552},
    {"s":"H-MOSEK","i":70,"t":0.0061,"n":34,"k":4.8e-9,"z":4214},
    {"s":"H-MOSEK","i":71,"t":0.0062,"n":37.1,"k":6.6e-8,"z":5227},
    {"s":"H-MOSEK","i":72,"t":0.0062,"n":36.1,"k":4.2e-8,"z":6552},
    {"s":"H-MOSEK","i":73,"t":0.0053,"n":36.1,"k":2.3e-9,"z":4214},
    {"s":"H-MOSEK","i":74,"t":0.0082,"n":37.8,"k":2.2e-8,"z":5928},
    {"s":"H-MOSEK","i":75,"t":0.0067,"n":35.5,"k":6.1e-8,"z":6552},
    {"s":"H-MOSEK","i":76,"t":0.0056,"n":33.1,"k":1.7e-9,"z":4240},
    {"s":"H-MOSEK","i":77,"t":0.0056,"n":40.6,"k":1.4e-8,"z":4630},
    {"s":"H-MOSEK","i":78,"t":0.0065,"n":39.5,"k":4e-8,"z":4863},
    {"s":"H-MOSEK","i":79,"t":0.0067,"n":38.5,"k":1e-8,"z":5902},
    {"s":"H-MOSEK","i":80,"t":0.0056,"n":37,"k":4.5e-9,"z":4304},
    {"s":"H-MOSEK","i":81,"t":0.0057,"n":36.1,"k":1e-8,"z":4500},
    {"s":"H-MOSEK","i":82,"t":0.0062,"n":38.5,"k":6.6e-8,"z":5538},
    {"s":"H-MOSEK","i":83,"t":0.0078,"n":41.2,"k":9.1e-9,"z":6552},
    {"s":"H-MOSEK","i":84,"t":0.0044,"n":39.5,"k":1.05e-7,"z":4500},
    {"s":"H-MOSEK","i":85,"t":0.0056,"n":39.5,"k":2e-8,"z":3226},
    {"s":"H-MOSEK","i":86,"t":0.0071,"n":39.5,"k":9.4e-8,"z":6552},
    {"s":"H-MOSEK","i":87,"t":0.0071,"n":38.5,"k":6.1e-8,"z":6552},
    {"s":"H-MOSEK","i":88,"t":0.0061,"n":36.1,"k":3.5e-8,"z":6552},
    {"s":"H-MOSEK","i":89,"t":0.0056,"n":35.2,"k":2.4e-8,"z":4240},
    {"s":"H-MOSEK","i":90,"t":0.0072,"n":34.6,"k":3.5e-8,"z":5954},
    {"s":"H-MOSEK","i":91,"t":0.0068,"n":35.5,"k":5.7e-8,"z":5603},
    {"s":"H-MOSEK","i":92,"t":0.0057,"n":37.2,"k":4.6e-8,"z":6058},
    {"s":"H-MOSEK","i":93,"t":0.0055,"n":36.8,"k":8.7e-8,"z":5902},
    {"s":"H-MOSEK","i":94,"t":0.0051,"n":36.8,"k":6.6e-8,"z":6058},

    {"s":"H-GUROBI","i":0,"t":0.0133,"n":55,"k":2.5e-13,"z":1700},
    {"s":"H-GUROBI","i":1,"t":0.0164,"n":42,"k":2e-11,"z":5980},
    {"s":"H-GUROBI","i":2,"t":0.0133,"n":46,"k":2.7e-12,"z":5642},
    {"s":"H-GUROBI","i":3,"t":0.0136,"n":44,"k":1e-13,"z":5850},
    {"s":"H-GUROBI","i":4,"t":0.0164,"n":45,"k":1e-13,"z":5850},
    {"s":"H-GUROBI","i":5,"t":0.0148,"n":45,"k":2.7e-12,"z":5616},
    {"s":"H-GUROBI","i":6,"t":0.013,"n":46,"k":5e-12,"z":5616},
    {"s":"H-GUROBI","i":7,"t":0.013,"n":46,"k":5.6e-12,"z":5811},
    {"s":"H-GUROBI","i":8,"t":0.0145,"n":46,"k":5.6e-12,"z":5850},
    {"s":"H-GUROBI","i":9,"t":0.0125,"n":46,"k":1e-12,"z":5616},
    {"s":"H-GUROBI","i":10,"t":0.0133,"n":46,"k":2.9e-11,"z":5642},
    {"s":"H-GUROBI","i":11,"t":0.016,"n":46,"k":2.7e-11,"z":5642},
    {"s":"H-GUROBI","i":12,"t":0.01,"n":46,"k":3.2e-12,"z":5850},
    {"s":"H-GUROBI","i":13,"t":0.013,"n":46,"k":1.3e-11,"z":5642},
    {"s":"H-GUROBI","i":14,"t":0.0167,"n":46,"k":1.3e-11,"z":5642},
    {"s":"H-GUROBI","i":15,"t":0.0096,"n":46,"k":8.1e-12,"z":5850},
    {"s":"H-GUROBI","i":16,"t":0.0133,"n":47,"k":1.45e-12,"z":5642},
    {"s":"H-GUROBI","i":17,"t":0.0178,"n":47,"k":1e-12,"z":5642},
    {"s":"H-GUROBI","i":18,"t":0.0176,"n":47,"k":4.9e-13,"z":5616},
    {"s":"H-GUROBI","i":19,"t":0.012,"n":48,"k":2.3e-13,"z":5642},
    {"s":"H-GUROBI","i":20,"t":0.015,"n":48,"k":1.6e-9,"z":5642},
    {"s":"H-GUROBI","i":21,"t":0.0133,"n":49,"k":2.4e-8,"z":5642},
    {"s":"H-GUROBI","i":22,"t":0.0133,"n":49,"k":3.5e-8,"z":5642},
    {"s":"H-GUROBI","i":23,"t":0.0133,"n":50,"k":5.1e-8,"z":5850},
    {"s":"H-GUROBI","i":24,"t":0.0145,"n":50,"k":1.18e-8,"z":5642},
    {"s":"H-GUROBI","i":25,"t":0.0123,"n":49,"k":1.7e-8,"z":5642},
    {"s":"H-GUROBI","i":26,"t":0.0128,"n":49,"k":1.55e-5,"z":5642},
    {"s":"H-GUROBI","i":27,"t":0.015,"n":50,"k":5.1e-8,"z":5292},
    {"s":"H-GUROBI","i":28,"t":0.012,"n":49,"k":3.8e-7,"z":5850},
    {"s":"H-GUROBI","i":29,"t":0.0133,"n":49,"k":3.8e-7,"z":5850},
    {"s":"H-GUROBI","i":30,"t":0.0174,"n":49,"k":1.26e-7,"z":5850},
    {"s":"H-GUROBI","i":31,"t":0.0174,"n":50,"k":1.66e-11,"z":5850},
    {"s":"H-GUROBI","i":32,"t":0.0123,"n":50,"k":6.6e-5,"z":5097},
    {"s":"H-GUROBI","i":33,"t":0.017,"n":50,"k":2.8e-6,"z":5123},
    {"s":"H-GUROBI","i":34,"t":0.012,"n":50,"k":9.3e-10,"z":5642},
    {"s":"H-GUROBI","i":35,"t":0.0125,"n":52,"k":1.6e-9,"z":3343},
    {"s":"H-GUROBI","i":36,"t":0.0172,"n":132,"k":5e-14,"z":4214},
    {"s":"H-GUROBI","i":37,"t":0.009,"n":47,"k":2.9e-8,"z":4577},
    {"s":"H-GUROBI","i":38,"t":0.0128,"n":46,"k":8.7e-8,"z":5642},
    {"s":"H-GUROBI","i":39,"t":0.0154,"n":46,"k":1.07e-4,"z":5642},
    {"s":"H-GUROBI","i":40,"t":0.01,"n":47,"k":4.1e-14,"z":5642},
    {"s":"H-GUROBI","i":41,"t":0.0123,"n":47,"k":4.2e-8,"z":4577},
    {"s":"H-GUROBI","i":42,"t":0.0148,"n":49,"k":3.8e-7,"z":5850},
    {"s":"H-GUROBI","i":43,"t":0.0115,"n":48,"k":4e-6,"z":5292},
    {"s":"H-GUROBI","i":44,"t":0.011,"n":50,"k":5e-14,"z":5577},
    {"s":"H-GUROBI","i":45,"t":0.0128,"n":46,"k":5.7e-8,"z":4603},
    {"s":"H-GUROBI","i":46,"t":0.015,"n":123,"k":5e-14,"z":4603},
    {"s":"H-GUROBI","i":47,"t":0.0125,"n":47,"k":1.4e-11,"z":4603},
    {"s":"H-GUROBI","i":48,"t":0.013,"n":47,"k":8.9e-5,"z":5357},
    {"s":"H-GUROBI","i":49,"t":0.0133,"n":48,"k":3.2e-12,"z":5642},
    {"s":"H-GUROBI","i":50,"t":0.0125,"n":49,"k":2.5e-5,"z":5123},
    {"s":"H-GUROBI","i":51,"t":0.011,"n":49,"k":6.2e-5,"z":5292},
    {"s":"H-GUROBI","i":52,"t":0.0172,"n":45,"k":4e-7,"z":5850},
    {"s":"H-GUROBI","i":53,"t":0.0137,"n":47,"k":2.8e-6,"z":5850},
    {"s":"H-GUROBI","i":54,"t":0.0125,"n":158,"k":1.3e-13,"z":5850},
    {"s":"H-GUROBI","i":55,"t":0.016,"n":49,"k":2.7e-12,"z":4032},
    {"s":"H-GUROBI","i":56,"t":0.0133,"n":49,"k":5.6e-12,"z":5681},
    {"s":"H-GUROBI","i":57,"t":0.0106,"n":49,"k":7e-13,"z":5850},
    {"s":"H-GUROBI","i":58,"t":0.0167,"n":48,"k":4.7e-12,"z":5850},
    {"s":"H-GUROBI","i":59,"t":0.0133,"n":46,"k":3.2e-12,"z":5642},
    {"s":"H-GUROBI","i":60,"t":0.0115,"n":46,"k":5.6e-12,"z":5850},
    {"s":"H-GUROBI","i":61,"t":0.0145,"n":47,"k":5.6e-12,"z":5642},
    {"s":"H-GUROBI","i":62,"t":0.0117,"n":46,"k":2e-11,"z":5850},
    {"s":"H-GUROBI","i":63,"t":0.0172,"n":47,"k":4.7e-12,"z":5642},
    {"s":"H-GUROBI","i":64,"t":0.0123,"n":47,"k":5.8e-6,"z":5642},
    {"s":"H-GUROBI","i":65,"t":0.0108,"n":47,"k":3.5e-11,"z":5850},
    {"s":"H-GUROBI","i":66,"t":0.0145,"n":46,"k":4.7e-12,"z":5642},
    {"s":"H-GUROBI","i":67,"t":0.0128,"n":46,"k":4.7e-12,"z":5642},
    {"s":"H-GUROBI","i":68,"t":0.0133,"n":47,"k":1.07e-5,"z":5850},
    {"s":"H-GUROBI","i":69,"t":0.015,"n":47,"k":3.5e-11,"z":5642},
    {"s":"H-GUROBI","i":70,"t":0.013,"n":48,"k":1.04e-11,"z":5850},
    {"s":"H-GUROBI","i":71,"t":0.013,"n":48,"k":5.8e-6,"z":5850},
    {"s":"H-GUROBI","i":72,"t":0.0174,"n":48,"k":6.8e-12,"z":5850},
    {"s":"H-GUROBI","i":73,"t":0.0562,"n":929,"k":7e-14,"z":5850},

    {"s":"H-OSQP","i":0,"t":0.0124,"n":6600,"k":1.3e-4,"z":1979},
    {"s":"H-OSQP","i":1,"t":0.0048,"n":422,"k":8.3e-6,"z":9513},
    {"s":"H-OSQP","i":2,"t":0.006,"n":324,"k":5.8e-6,"z":6552},
    {"s":"H-OSQP","i":3,"t":0.0035,"n":297,"k":1.7e-5,"z":6552},
    {"s":"H-OSQP","i":4,"t":0.0031,"n":228,"k":4e-6,"z":6552},
    {"s":"H-OSQP","i":5,"t":0.0027,"n":218,"k":1.05e-6,"z":5162},
    {"s":"H-OSQP","i":6,"t":0.0056,"n":260,"k":9.4e-7,"z":4214},
    {"s":"H-OSQP","i":7,"t":0.0028,"n":324,"k":5.8e-6,"z":4214},
    {"s":"H-OSQP","i":8,"t":0.0049,"n":573,"k":2.2e-5,"z":4214},
    {"s":"H-OSQP","i":9,"t":0.0045,"n":573,"k":1.34e-5,"z":4343},
    {"s":"H-OSQP","i":10,"t":0.0026,"n":249,"k":1.75e-6,"z":4551},
    {"s":"H-OSQP","i":11,"t":0.0079,"n":733,"k":1.34e-5,"z":4214},
    {"s":"H-OSQP","i":12,"t":0.0025,"n":249,"k":3.1e-6,"z":4512},
    {"s":"H-OSQP","i":13,"t":0.0034,"n":422,"k":1e-5,"z":4214},
    {"s":"H-OSQP","i":14,"t":0.0032,"n":249,"k":2.2e-6,"z":4551},
    {"s":"H-OSQP","i":15,"t":0.0056,"n":813,"k":8.3e-6,"z":4214},
    {"s":"H-OSQP","i":16,"t":0.004,"n":440,"k":1.44e-5,"z":4421},
    {"s":"H-OSQP","i":17,"t":0.0054,"n":448,"k":1.55e-5,"z":4421},
    {"s":"H-OSQP","i":18,"t":0.0032,"n":243,"k":1.55e-5,"z":4551}
  ]},
  "vconcat": [
    {
      "width": 964, "height": 246,
      "mark": {"type": "line"},
      "encoding": {
        "x": {"field": "i", "type": "quantitative", "scale": {"domain": [0, 156], "nice": false}, "axis": null},
        "y": {"field": "t", "type": "quantitative",
          "scale": {"type": "log", "domain": [0.000449, 0.0705], "nice": false},
          "axis": {"title": "Time [s]",
            "values": [0.0005,0.0006,0.0007,0.0008,0.0009,0.001,0.002,0.003,0.004,0.005,0.006,0.007,0.008,0.009,0.01,0.02,0.03,0.04,0.05,0.06,0.07],
            "labelExpr": "datum.value == 0.01 ? '10⁻²' : datum.value == 0.001 ? '10⁻³' : ''",
            "tickSize": {"condition": {"test": "datum.value == 0.01 || datum.value == 0.001", "value": 5}, "value": 3}}},
        "color": {"field": "s", "type": "nominal",
          "scale": {"domain": ["𝒩ADM₂","𝒩IPM₂","𝒩ADM₂ → H-MOSEK","H-MOSEK","H-GUROBI","H-OSQP"],
                    "range": ["#000000","#0000ff","#ff00ff","#008000","#800080","#ff0000"]},
          "legend": {"title": null}}
      }
    },
    {
      "width": 964, "height": 246,
      "mark": {"type": "line"},
      "encoding": {
        "x": {"field": "i", "type": "quantitative", "scale": {"domain": [0, 156], "nice": false}, "axis": null},
        "y": {"field": "n", "type": "quantitative",
          "scale": {"type": "log", "domain": [14.4, 8770], "nice": false},
          "axis": {"title": "Inner iter.",
            "values": [20,30,40,50,60,70,80,90,100,200,300,400,500,600,700,800,900,1000,2000,3000,4000,5000,6000,7000,8000],
            "labelExpr": "datum.value == 100 ? '10²' : datum.value == 1000 ? '10³' : ''",
            "tickSize": {"condition": {"test": "datum.value == 100 || datum.value == 1000", "value": 5}, "value": 3}}},
        "color": {"field": "s", "type": "nominal",
          "scale": {"domain": ["𝒩ADM₂","𝒩IPM₂","𝒩ADM₂ → H-MOSEK","H-MOSEK","H-GUROBI","H-OSQP"],
                    "range": ["#000000","#0000ff","#ff00ff","#008000","#800080","#ff0000"]},
          "legend": {"title": null}}
      }
    },
    {
      "width": 964, "height": 246,
      "mark": {"type": "line"},
      "encoding": {
        "x": {"field": "i", "type": "quantitative", "scale": {"domain": [0, 156], "nice": false}, "axis": null},
        "y": {"field": "k", "type": "quantitative",
          "scale": {"type": "log", "domain": [1.48e-14, 0.0063], "nice": false},
          "axis": {"title": "KKT", "values": [1e-11, 1e-8, 1e-5], "tickSize": 5,
            "labelExpr": "datum.value == 1e-5 ? '10⁻⁵' : datum.value == 1e-8 ? '10⁻⁸' : '10⁻¹¹'"}},
        "color": {"field": "s", "type": "nominal",
          "scale": {"domain": ["𝒩ADM₂","𝒩IPM₂","𝒩ADM₂ → H-MOSEK","H-MOSEK","H-GUROBI","H-OSQP"],
                    "range": ["#000000","#0000ff","#ff00ff","#008000","#800080","#ff0000"]},
          "legend": {"title": null}}
      }
    },
    {
      "width": 964, "height": 246,
      "mark": {"type": "line"},
      "encoding": {
        "x": {"field": "i", "type": "quantitative", "scale": {"domain": [0, 156], "nice": false},
          "axis": {"title": "Outer iteration", "values": [0,20,40,60,80,100,120,140], "tickSize": 4, "format": "d",
                   "labelFontSize": 25, "titleFontSize": 26, "labelPadding": 2, "titlePadding": 1}},
        "y": {"field": "z", "type": "quantitative",
          "scale": {"domain": [372, 9950], "nice": false},
          "axis": {"title": "nnz", "values": [2500, 5000, 7500], "tickSize": 5, "format": "d"}},
        "color": {"field": "s", "type": "nominal",
          "scale": {"domain": ["𝒩ADM₂","𝒩IPM₂","𝒩ADM₂ → H-MOSEK","H-MOSEK","H-GUROBI","H-OSQP"],
                    "range": ["#000000","#0000ff","#ff00ff","#008000","#800080","#ff0000"]},
          "legend": {"title": null}}
      }
    }
  ]
}
